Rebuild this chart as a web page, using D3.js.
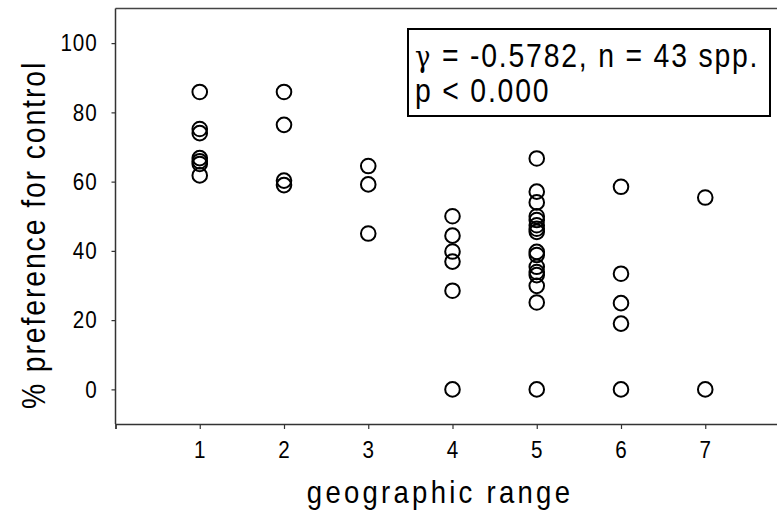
<!DOCTYPE html>
<html><head><meta charset="utf-8">
<script src="https://cdn.jsdelivr.net/npm/d3@7"></script>
<style>body{margin:0;background:#fff;} svg{display:block;}</style>
</head><body>
<svg id="c" width="777" height="515"></svg>
<script>
// geographic range category of each species
const rangeX = [
  1,1,1,1,1,1,1,
  2,2,2,2,
  3,3,3,
  4,4,4,4,4,4,
  5,5,5,5,5,5,5,5,5,5,5,5,5,5,5,5,
  6,6,6,6,6,
  7,7
];
// % preference for control
const prefY = [
  85.9,75.2,74.0,66.8,65.9,65.1,61.8,
  85.9,76.4,60.3,59.0,
  64.5,59.2,45.0,
  50.0,44.4,39.8,36.9,28.5,0,
  66.7,57.1,54.0,50.0,48.9,47.4,46.4,45.5,39.7,38.8,35.4,33.9,33.0,29.9,25.1,0,
  58.5,33.4,24.9,19.0,0,
  55.4,0
];
const xTicks = [0,1,2,3,4,5,6,7,8];
const xTickLabels = ["","1","2","3","4","5","6","7",""];
const yTicks = [0,20,40,60,80,100];
const annotGreek = "\u03b3";
const annotLines = [" = -0.5782, n = 43 spp.", "p < 0.000"];
const xTitle = "geographic range";
const yTitle = "% preference for control";

const FONT = "'Liberation Sans', Arial, sans-serif";
const SX = 0.86; // condensed look
const svg = d3.select("#c");
const x = d3.scaleLinear().domain([0,8]).range([115.5, 789.5]);
const y = d3.scaleLinear().domain([-10,110]).range([424, 8.5]);

// top frame line
svg.append("line").attr("x1", x(0)).attr("x2", 777).attr("y1", y(110)).attr("y2", y(110))
  .attr("stroke","#444").attr("stroke-width",1.5);

const xAxis = svg.append("g").attr("transform",`translate(0,${y(-10)})`)
  .call(d3.axisBottom(x).tickValues(xTicks).tickFormat((d,i)=>xTickLabels[i]).tickSizeOuter(0).tickSize(5).tickPadding(12));
const yAxis = svg.append("g").attr("transform",`translate(${x(0)},0)`)
  .call(d3.axisLeft(y).tickValues(yTicks).tickSizeOuter(0).tickSize(4).tickPadding(14));
[xAxis,yAxis].forEach(g=>{
  g.select(".domain").attr("stroke","#333").attr("stroke-width",1.5);
  g.selectAll(".tick line").attr("stroke","#333").attr("stroke-width",1.2);
  g.selectAll("text").attr("font-family",FONT).attr("font-size",24).attr("letter-spacing",1).attr("fill","#000");
});
xAxis.selectAll("text").attr("transform",`scale(${SX},1)`);
yAxis.selectAll("text").attr("x", -18/SX).attr("transform",`scale(${SX},1)`);
yAxis.select(".domain").attr("d", `M0,${y(110)}V${y(-10)}`);

// points
svg.append("g").selectAll("circle").data(prefY).join("circle")
  .attr("cx",(d,i)=>x(rangeX[i])).attr("cy",d=>y(d)).attr("r",7.3)
  .attr("fill","none").attr("stroke","#000").attr("stroke-width",2);

// annotation box
svg.append("rect").attr("x",408).attr("y",29).attr("width",362).attr("height",87)
  .attr("fill","#fff").attr("stroke","#000").attr("stroke-width",2);
const annot = svg.append("g").selectAll("g").data(annotLines).join("g")
  .attr("transform",(d,i)=>`translate(415,${67+i*35}) scale(${SX},1)`)
  .append("text").attr("font-family",FONT).attr("font-size",33).attr("letter-spacing",2.1);
annot.filter((d,i)=>i===0).append("tspan").attr("font-family","'DejaVu Serif', serif").attr("font-size",30).text(annotGreek);
annot.append("tspan").text(d=>d);

// axis titles
svg.append("g").attr("transform",`translate(440,503) scale(${SX},1)`)
  .append("text").attr("text-anchor","middle")
  .attr("font-family",FONT).attr("font-size",32).attr("letter-spacing",3.8).text(xTitle);
svg.append("g").attr("transform",`translate(45,235) rotate(-90) scale(${SX},1)`)
  .append("text").attr("text-anchor","middle")
  .attr("font-family",FONT).attr("font-size",33).attr("letter-spacing",2.2).text(yTitle);
</script>
</body></html>
